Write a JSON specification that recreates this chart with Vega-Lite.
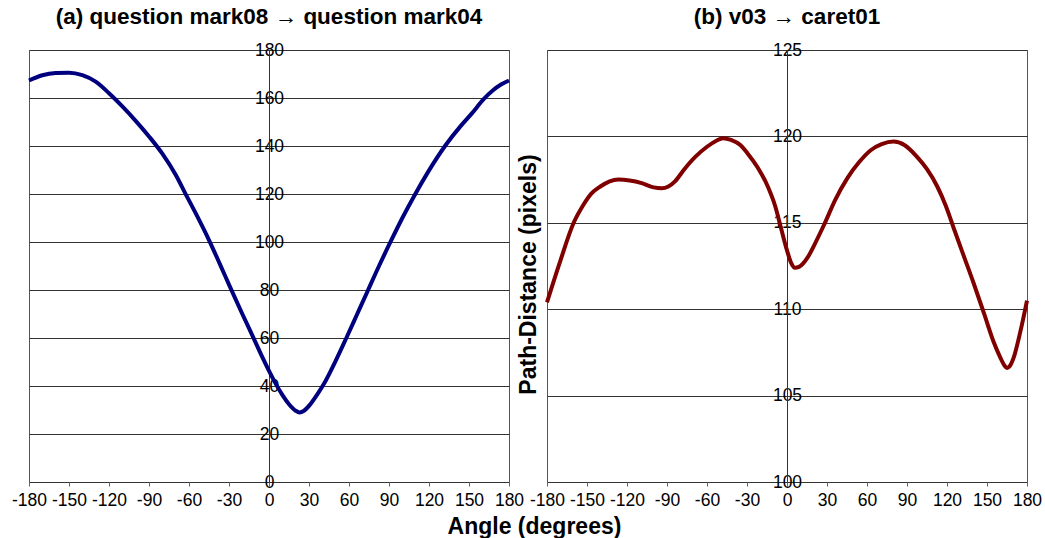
{
  "$schema": "https://vega.github.io/schema/vega-lite/v6.json",
  "autosize": {"type": "pad"},
  "padding": {"left": 10, "top": 5, "right": 0, "bottom": 0},
  "background": "white",
  "spacing": 38,
  "bounds": "flush",
  "config": {
    "font": "Liberation Sans",
    "view": {"stroke": "#555", "strokeWidth": 1},
    "axis": {
      "labelFont": "Liberation Sans", "labelFontSize": 17.5, "labelColor": "#000",
      "titleFont": "Liberation Sans", "titleFontSize": 23, "titleFontWeight": "bold", "titleColor": "#000",
      "gridColor": "#333", "gridWidth": 1, "gridOpacity": 1,
      "domainColor": "#333", "tickColor": "#666",
      "labelOverlap": false, "labelFlush": false, "labelBound": false,
      "labelExpr": "'' + datum.value"
    }
  },
  "hconcat": [
    {
      "width": 480, "height": 432,
      "title": {"text": "(a) question mark08 → question mark04", "frame": "group", "anchor": "middle", "baseline": "alphabetic", "offset": -5, "fontSize": 22.5, "fontWeight": "bold", "font": "Liberation Sans", "color": "#000"},
      "data": {"values": [
        {"angle": -180, "dist": 167.3}, {"angle": -170, "dist": 169.5}, {"angle": -160, "dist": 170.4}, {"angle": -150, "dist": 170.5},
        {"angle": -140, "dist": 169.5}, {"angle": -130, "dist": 166.8}, {"angle": -120, "dist": 162}, {"angle": -110, "dist": 156.5},
        {"angle": -100, "dist": 150.5}, {"angle": -90, "dist": 144}, {"angle": -80, "dist": 136.8}, {"angle": -70, "dist": 128},
        {"angle": -63, "dist": 120.5}, {"angle": -55, "dist": 112}, {"angle": -45, "dist": 100.8}, {"angle": -37, "dist": 91},
        {"angle": -29, "dist": 81}, {"angle": -20, "dist": 70}, {"angle": -12, "dist": 60.5}, {"angle": -5, "dist": 52},
        {"angle": 0, "dist": 46.3}, {"angle": 5, "dist": 41}, {"angle": 10, "dist": 36.3}, {"angle": 15, "dist": 32.4},
        {"angle": 20, "dist": 29.7}, {"angle": 23, "dist": 29}, {"angle": 26, "dist": 29.6}, {"angle": 31, "dist": 32.4},
        {"angle": 36, "dist": 36.3}, {"angle": 41, "dist": 40.7}, {"angle": 50, "dist": 50.5}, {"angle": 58, "dist": 60},
        {"angle": 66, "dist": 69.8}, {"angle": 74, "dist": 79.6}, {"angle": 82.5, "dist": 90}, {"angle": 91, "dist": 99.9},
        {"angle": 100, "dist": 110}, {"angle": 109, "dist": 119.3}, {"angle": 119, "dist": 128.9}, {"angle": 132, "dist": 140},
        {"angle": 144, "dist": 148.5}, {"angle": 152, "dist": 153.5}, {"angle": 161, "dist": 159.5}, {"angle": 168, "dist": 163.2},
        {"angle": 174, "dist": 165.6}, {"angle": 180, "dist": 167.3}
      ]},
      "mark": {"type": "line", "color": "#00007f", "strokeWidth": 4, "interpolate": "monotone"},
      "encoding": {
        "x": {"field": "angle", "type": "quantitative", "scale": {"domain": [-180, 180], "nice": false},
          "axis": {"values": [-180, -150, -120, -90, -60, -30, 0, 30, 60, 90, 120, 150, 180], "title": "Angle (degrees)",
            "titleX": 505, "titleY": 51, "titleBaseline": "alphabetic", "grid": false, "domain": false, "tickSize": 4, "labelPadding": 5}},
        "y": {"field": "dist", "type": "quantitative", "scale": {"domain": [0, 180], "nice": false},
          "axis": {"values": [0, 20, 40, 60, 80, 100, 120, 140, 160, 180], "offset": -240, "title": null, "ticks": false,
            "labelAlign": "center", "labelBaseline": "middle", "labelPadding": 0, "grid": true}}
      }
    },
    {
      "width": 480, "height": 432,
      "title": {"text": "(b) v03 → caret01", "frame": "group", "anchor": "middle", "baseline": "alphabetic", "offset": -5, "fontSize": 22.5, "fontWeight": "bold", "font": "Liberation Sans", "color": "#000"},
      "data": {"values": [
        {"angle": -180, "dist": 110.4}, {"angle": -170, "dist": 112.8},
        {"angle": -160, "dist": 115.0}, {"angle": -153, "dist": 116}, {"angle": -146.6, "dist": 116.7}, {"angle": -140, "dist": 117.1},
        {"angle": -133, "dist": 117.4}, {"angle": -126.6, "dist": 117.5}, {"angle": -118, "dist": 117.45}, {"angle": -109, "dist": 117.3},
        {"angle": -100, "dist": 117.05}, {"angle": -94, "dist": 117.0}, {"angle": -89, "dist": 117.1}, {"angle": -84, "dist": 117.4},
        {"angle": -77, "dist": 118.1}, {"angle": -69, "dist": 118.8}, {"angle": -60, "dist": 119.4}, {"angle": -53, "dist": 119.75},
        {"angle": -48, "dist": 119.9}, {"angle": -42, "dist": 119.8}, {"angle": -35, "dist": 119.5}, {"angle": -29.4, "dist": 119.0},
        {"angle": -22, "dist": 118.2}, {"angle": -14.4, "dist": 117.1}, {"angle": -9, "dist": 116}, {"angle": -4.5, "dist": 114.7},
        {"angle": 0, "dist": 113.4}, {"angle": 3, "dist": 112.7}, {"angle": 6, "dist": 112.4}, {"angle": 9, "dist": 112.45},
        {"angle": 15.5, "dist": 113.0}, {"angle": 21, "dist": 113.8}, {"angle": 27.9, "dist": 114.9}, {"angle": 36, "dist": 116.3},
        {"angle": 45.4, "dist": 117.6}, {"angle": 54, "dist": 118.5}, {"angle": 62.8, "dist": 119.2}, {"angle": 71, "dist": 119.55},
        {"angle": 80, "dist": 119.7}, {"angle": 88, "dist": 119.5}, {"angle": 97.7, "dist": 118.8}, {"angle": 105, "dist": 118.1},
        {"angle": 112.7, "dist": 117.1}, {"angle": 119, "dist": 116}, {"angle": 125, "dist": 114.7}, {"angle": 132, "dist": 113.2},
        {"angle": 140, "dist": 111.5}, {"angle": 148, "dist": 109.7}, {"angle": 155, "dist": 108.1}, {"angle": 160, "dist": 107.2},
        {"angle": 163, "dist": 106.75}, {"angle": 165, "dist": 106.6}, {"angle": 167, "dist": 106.7}, {"angle": 170, "dist": 107.2},
        {"angle": 175, "dist": 108.7}, {"angle": 180, "dist": 110.5}
      ]},
      "mark": {"type": "line", "color": "#800000", "strokeWidth": 4, "interpolate": "monotone"},
      "encoding": {
        "x": {"field": "angle", "type": "quantitative", "scale": {"domain": [-180, 180], "nice": false},
          "axis": {"values": [-180, -150, -120, -90, -60, -30, 0, 30, 60, 90, 120, 150, 180], "title": null,
            "grid": false, "domain": false, "tickSize": 4, "labelPadding": 5}},
        "y": {"field": "dist", "type": "quantitative", "scale": {"domain": [100, 125], "nice": false, "zero": false},
          "axis": {"values": [100, 105, 110, 115, 120, 125], "offset": -240, "title": "Path-Distance (pixels)", "ticks": false,
            "titleX": -259, "titleY": 224, "titleBaseline": "middle", "titleAlign": "center", "titleAngle": -90,
            "labelAlign": "center", "labelBaseline": "middle", "labelPadding": 0, "grid": true}}
      }
    }
  ]
}
